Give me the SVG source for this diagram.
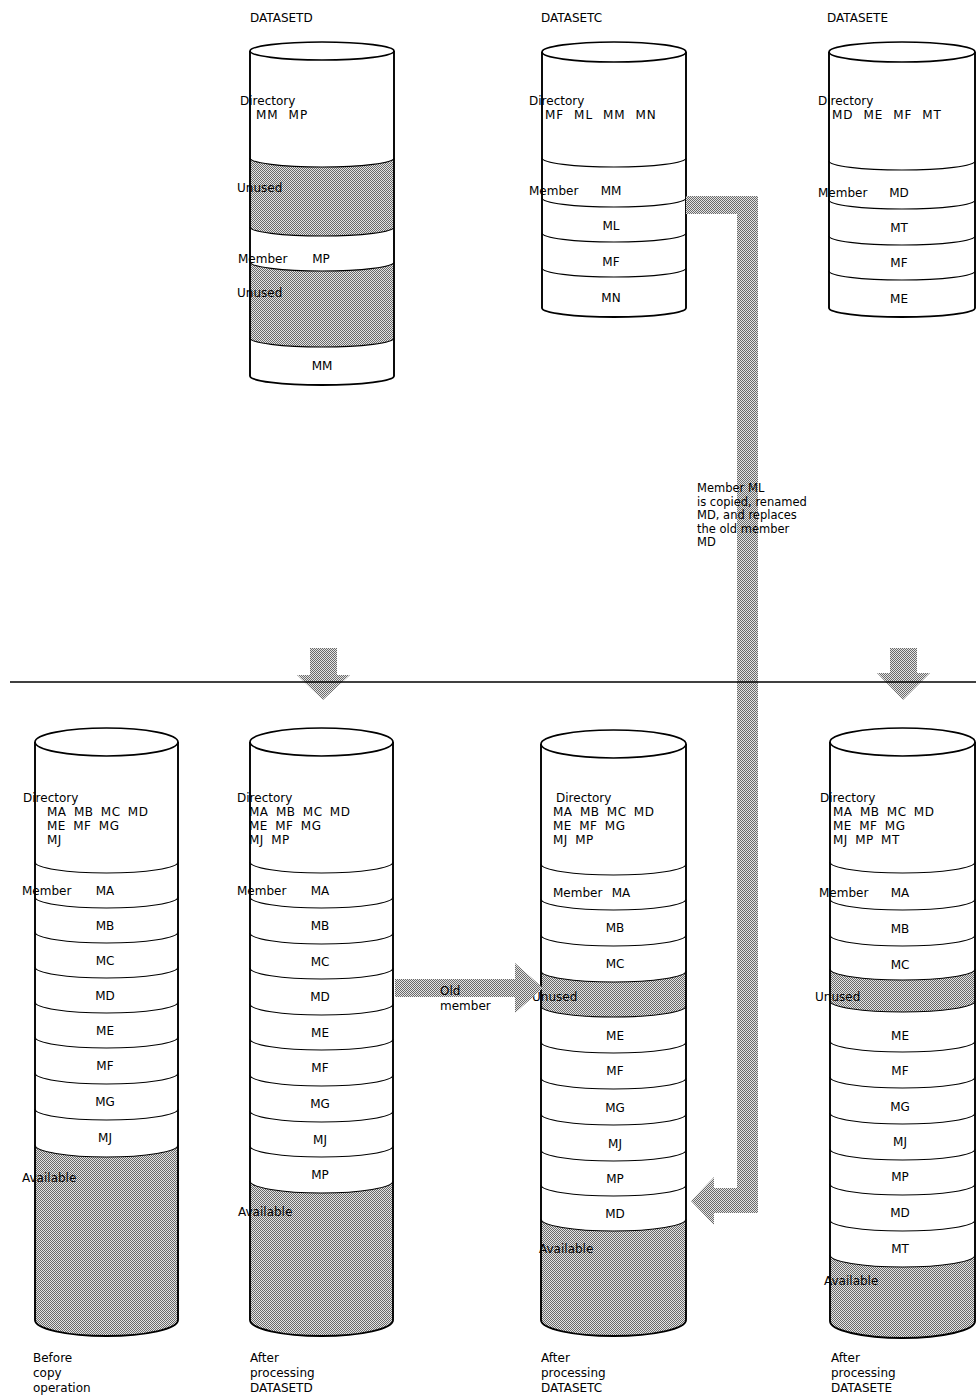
<svg xmlns="http://www.w3.org/2000/svg" width="976" height="1400" viewBox="0 0 976 1400">
<defs>
<pattern id="ht" width="2" height="2" patternUnits="userSpaceOnUse">
<rect width="2" height="2" fill="#e4e4e4"/>
<rect width="1" height="1" fill="#6a6a6a"/>
<rect x="1" y="1" width="1" height="1" fill="#6a6a6a"/>
</pattern>
<style>
.bf{fill:#fff;stroke:none}
.ol{fill:none;stroke:#000;stroke-width:1.9}
.cap{fill:#fff;stroke:#000;stroke-width:1.7}
.sep{fill:none;stroke:#000;stroke-width:1.1}
.g{fill:url(#ht);stroke:none}
.ar{fill:url(#ht);stroke:none}
text{font-family:"DejaVu Sans","Liberation Sans",sans-serif;font-size:12px;fill:#000}
.m{text-anchor:middle}
.s{font-size:11.5px}
.lt{letter-spacing:1px;word-spacing:5px}
.lb{letter-spacing:0.5px;word-spacing:3px}
</style>
</defs>
<rect width="976" height="1400" fill="#fff"/>

<g id="datasetd">
<path class="bf" d="M250,51 L250,376 A72 9 0 0 0 394,376 L394,51 Z"/>
<path class="g" d="M250,158 A72 9 0 0 0 394,158 L394,227 A72 9 0 0 1 250,227 Z"/>
<path class="g" d="M250,262 A72 9 0 0 0 394,262 L394,338 A72 9 0 0 1 250,338 Z"/>
<path class="sep" d="M250,158 A72 9 0 0 0 394,158 M250,227 A72 9 0 0 0 394,227 M250,262 A72 9 0 0 0 394,262 M250,338 A72 9 0 0 0 394,338"/>
<path class="ol" d="M250,51 L250,376 A72 9 0 0 0 394,376 L394,51"/>
<ellipse class="cap" cx="322" cy="51" rx="72" ry="9"/>
<text x="250" y="22">DATASETD</text>
<text x="240" y="105">Directory</text>
<text class="lt" x="256" y="119">MM MP</text>
<text x="237" y="192">Unused</text>
<text x="238" y="263">Member</text>
<text class="m" x="321" y="263">MP</text>
<text x="237" y="297">Unused</text>
<text class="m" x="322" y="370">MM</text>
</g>

<g id="datasetc">
<path class="bf" d="M542,52 L542,308 A72 9 0 0 0 686,308 L686,52 Z"/>
<path class="sep" d="M542,158 A72 9 0 0 0 686,158 M542,198 A72 9 0 0 0 686,198 M542,233 A72 9 0 0 0 686,233 M542,268 A72 9 0 0 0 686,268"/>
<path class="ol" d="M542,52 L542,308 A72 9 0 0 0 686,308 L686,52"/>
<ellipse class="cap" cx="614" cy="52" rx="72" ry="10"/>
<text x="541" y="22">DATASETC</text>
<text x="529" y="105">Directory</text>
<text class="lt" x="545" y="119">MF ML MM MN</text>
<text x="529" y="195">Member</text>
<text class="m" x="611" y="195">MM</text>
<text class="m" x="611" y="230">ML</text>
<text class="m" x="611" y="266">MF</text>
<text class="m" x="611" y="302">MN</text>
</g>

<g id="datasete">
<path class="bf" d="M829,52 L829,308 A73 9 0 0 0 975,308 L975,52 Z"/>
<path class="sep" d="M829,161 A73 9 0 0 0 975,161 M829,200 A73 9 0 0 0 975,200 M829,236 A73 9 0 0 0 975,236 M829,271 A73 9 0 0 0 975,271"/>
<path class="ol" d="M829,52 L829,308 A73 9 0 0 0 975,308 L975,52"/>
<ellipse class="cap" cx="902" cy="52" rx="73" ry="10"/>
<text x="827" y="22">DATASETE</text>
<text x="818" y="105">Directory</text>
<text class="lt" x="832" y="119">MD ME MF MT</text>
<text x="818" y="197">Member</text>
<text class="m" x="899" y="197">MD</text>
<text class="m" x="899" y="232">MT</text>
<text class="m" x="899" y="267">MF</text>
<text class="m" x="899" y="303">ME</text>
</g>

<g id="before">
<path class="bf" d="M35,742 L35,1320 A71.5 16 0 0 0 178,1320 L178,742 Z"/>
<path class="g" d="M35,1145 A71.5 12 0 0 0 178,1145 L178,1320 A71.5 16 0 0 1 35,1320 Z"/>
<path class="sep" d="M35,862 A71.5 11 0 0 0 178,862 M35,897 A71.5 11 0 0 0 178,897 M35,932 A71.5 11 0 0 0 178,932 M35,967 A71.5 11 0 0 0 178,967 M35,1002 A71.5 11 0 0 0 178,1002 M35,1037 A71.5 11 0 0 0 178,1037 M35,1073 A71.5 11 0 0 0 178,1073 M35,1109 A71.5 11 0 0 0 178,1109 M35,1145 A71.5 12 0 0 0 178,1145"/>
<path class="ol" d="M35,742 L35,1320 A71.5 16 0 0 0 178,1320 L178,742"/>
<ellipse class="cap" cx="106.5" cy="742" rx="71.5" ry="14"/>
<text x="23" y="802">Directory</text>
<text class="lb" x="47" y="816">MA MB MC MD</text>
<text class="lb" x="47" y="830">ME MF MG</text>
<text class="lb" x="47" y="844">MJ</text>
<text x="22" y="895">Member</text>
<text class="m" x="105" y="895">MA</text>
<text class="m" x="105" y="930">MB</text>
<text class="m" x="105" y="965">MC</text>
<text class="m" x="105" y="1000">MD</text>
<text class="m" x="105" y="1035">ME</text>
<text class="m" x="105" y="1070">MF</text>
<text class="m" x="105" y="1106">MG</text>
<text class="m" x="105" y="1142">MJ</text>
<text x="22" y="1182">Available</text>
<text x="33" y="1362">Before</text>
<text x="33" y="1377">copy</text>
<text x="33" y="1392">operation</text>
</g>

<g id="after-d">
<path class="bf" d="M250,742 L250,1320 A71.5 16 0 0 0 393,1320 L393,742 Z"/>
<path class="g" d="M250,1181 A71.5 12 0 0 0 393,1181 L393,1320 A71.5 16 0 0 1 250,1320 Z"/>
<path class="sep" d="M250,862 A71.5 11 0 0 0 393,862 M250,897 A71.5 11 0 0 0 393,897 M250,933 A71.5 11 0 0 0 393,933 M250,968 A71.5 11 0 0 0 393,968 M250,1004 A71.5 11 0 0 0 393,1004 M250,1039 A71.5 11 0 0 0 393,1039 M250,1075 A71.5 11 0 0 0 393,1075 M250,1111 A71.5 11 0 0 0 393,1111 M250,1146 A71.5 11 0 0 0 393,1146 M250,1181 A71.5 12 0 0 0 393,1181"/>
<path class="ol" d="M250,742 L250,1320 A71.5 16 0 0 0 393,1320 L393,742"/>
<ellipse class="cap" cx="321.5" cy="742" rx="71.5" ry="14"/>
<text x="237" y="802">Directory</text>
<text class="lb" x="249" y="816">MA MB MC MD</text>
<text class="lb" x="249" y="830">ME MF MG</text>
<text class="lb" x="249" y="844">MJ MP</text>
<text x="237" y="895">Member</text>
<text class="m" x="320" y="895">MA</text>
<text class="m" x="320" y="930">MB</text>
<text class="m" x="320" y="966">MC</text>
<text class="m" x="320" y="1001">MD</text>
<text class="m" x="320" y="1037">ME</text>
<text class="m" x="320" y="1072">MF</text>
<text class="m" x="320" y="1108">MG</text>
<text class="m" x="320" y="1144">MJ</text>
<text class="m" x="320" y="1179">MP</text>
<text x="238" y="1216">Available</text>
<text x="250" y="1362">After</text>
<text x="250" y="1377">processing</text>
<text x="250" y="1392">DATASETD</text>
</g>

<g id="after-c">
<path class="bf" d="M541,744 L541,1320 A72.5 16 0 0 0 686,1320 L686,744 Z"/>
<path class="g" d="M541,971 A72.5 11 0 0 0 686,971 L686,1006 A72.5 11 0 0 1 541,1006 Z"/>
<path class="g" d="M541,1219 A72.5 12 0 0 0 686,1219 L686,1320 A72.5 16 0 0 1 541,1320 Z"/>
<path class="sep" d="M541,864 A72.5 11 0 0 0 686,864 M541,899 A72.5 11 0 0 0 686,899 M541,935 A72.5 11 0 0 0 686,935 M541,971 A72.5 11 0 0 0 686,971 M541,1006 A72.5 11 0 0 0 686,1006 M541,1042 A72.5 11 0 0 0 686,1042 M541,1078 A72.5 11 0 0 0 686,1078 M541,1114 A72.5 11 0 0 0 686,1114 M541,1150 A72.5 11 0 0 0 686,1150 M541,1185 A72.5 11 0 0 0 686,1185 M541,1219 A72.5 12 0 0 0 686,1219"/>
<path class="ol" d="M541,744 L541,1320 A72.5 16 0 0 0 686,1320 L686,744"/>
<ellipse class="cap" cx="613.5" cy="744" rx="72.5" ry="14"/>
<text x="556" y="802">Directory</text>
<text class="lb" x="553" y="816">MA MB MC MD</text>
<text class="lb" x="553" y="830">ME MF MG</text>
<text class="lb" x="553" y="844">MJ MP</text>
<text x="553" y="897">Member</text>
<text class="m" x="621" y="897">MA</text>
<text class="m" x="615" y="932">MB</text>
<text class="m" x="615" y="968">MC</text>
<text x="532" y="1001">Unused</text>
<text class="m" x="615" y="1040">ME</text>
<text class="m" x="615" y="1075">MF</text>
<text class="m" x="615" y="1112">MG</text>
<text class="m" x="615" y="1148">MJ</text>
<text class="m" x="615" y="1183">MP</text>
<text class="m" x="615" y="1218">MD</text>
<text x="539" y="1253">Available</text>
<text x="541" y="1362">After</text>
<text x="541" y="1377">processing</text>
<text x="541" y="1392">DATASETC</text>
</g>

<g id="after-e">
<path class="bf" d="M830,742 L830,1321 A72.5 17 0 0 0 975,1321 L975,742 Z"/>
<path class="g" d="M830,969 A72.5 11 0 0 0 975,969 L975,1001 A72.5 11 0 0 1 830,1001 Z"/>
<path class="g" d="M830,1255 A72.5 12 0 0 0 975,1255 L975,1321 A72.5 17 0 0 1 830,1321 Z"/>
<path class="sep" d="M830,862 A72.5 11 0 0 0 975,862 M830,899 A72.5 11 0 0 0 975,899 M830,935 A72.5 11 0 0 0 975,935 M830,969 A72.5 11 0 0 0 975,969 M830,1001 A72.5 11 0 0 0 975,1001 M830,1041 A72.5 11 0 0 0 975,1041 M830,1077 A72.5 11 0 0 0 975,1077 M830,1113 A72.5 11 0 0 0 975,1113 M830,1149 A72.5 11 0 0 0 975,1149 M830,1184 A72.5 11 0 0 0 975,1184 M830,1220 A72.5 11 0 0 0 975,1220 M830,1255 A72.5 12 0 0 0 975,1255"/>
<path class="ol" d="M830,742 L830,1321 A72.5 17 0 0 0 975,1321 L975,742"/>
<ellipse class="cap" cx="902.5" cy="742" rx="72.5" ry="14"/>
<text x="820" y="802">Directory</text>
<text class="lb" x="833" y="816">MA MB MC MD</text>
<text class="lb" x="833" y="830">ME MF MG</text>
<text class="lb" x="833" y="844">MJ MP MT</text>
<text x="819" y="897">Member</text>
<text class="m" x="900" y="897">MA</text>
<text class="m" x="900" y="933">MB</text>
<text class="m" x="900" y="969">MC</text>
<text x="815" y="1001">Unused</text>
<text class="m" x="900" y="1040">ME</text>
<text class="m" x="900" y="1075">MF</text>
<text class="m" x="900" y="1111">MG</text>
<text class="m" x="900" y="1146">MJ</text>
<text class="m" x="900" y="1181">MP</text>
<text class="m" x="900" y="1217">MD</text>
<text class="m" x="900" y="1253">MT</text>
<text x="824" y="1285">Available</text>
<text x="831" y="1362">After</text>
<text x="831" y="1377">processing</text>
<text x="831" y="1392">DATASETE</text>
</g>

<g id="connectors">
<path class="ar" d="M686,196 L758,196 L758,1213 L714,1213 L714,1225 L691,1201 L714,1177 L714,1188 L737,1188 L737,214 L686,214 Z"/>
<path class="ar" d="M395,979 L515,979 L515,963 L543,988 L515,1013 L515,997 L395,997 Z"/>
<path class="ar" d="M310,648 L337,648 L337,675 L350,675 L323,700 L297,675 L310,675 Z"/>
<path class="ar" d="M890,648 L917,648 L917,673 L930,673 L903,700 L877,673 L890,673 Z"/>
<text x="440" y="995">Old</text>
<text x="440" y="1010">member</text>
<text class="s" x="697" y="492">Member ML</text>
<text class="s" x="697" y="506">is copied, renamed</text>
<text class="s" x="697" y="519">MD, and replaces</text>
<text class="s" x="697" y="533">the old member</text>
<text class="s" x="697" y="546">MD</text>
</g>

<line x1="10" y1="682" x2="976" y2="682" stroke="#000" stroke-width="1.3"/>
</svg>
